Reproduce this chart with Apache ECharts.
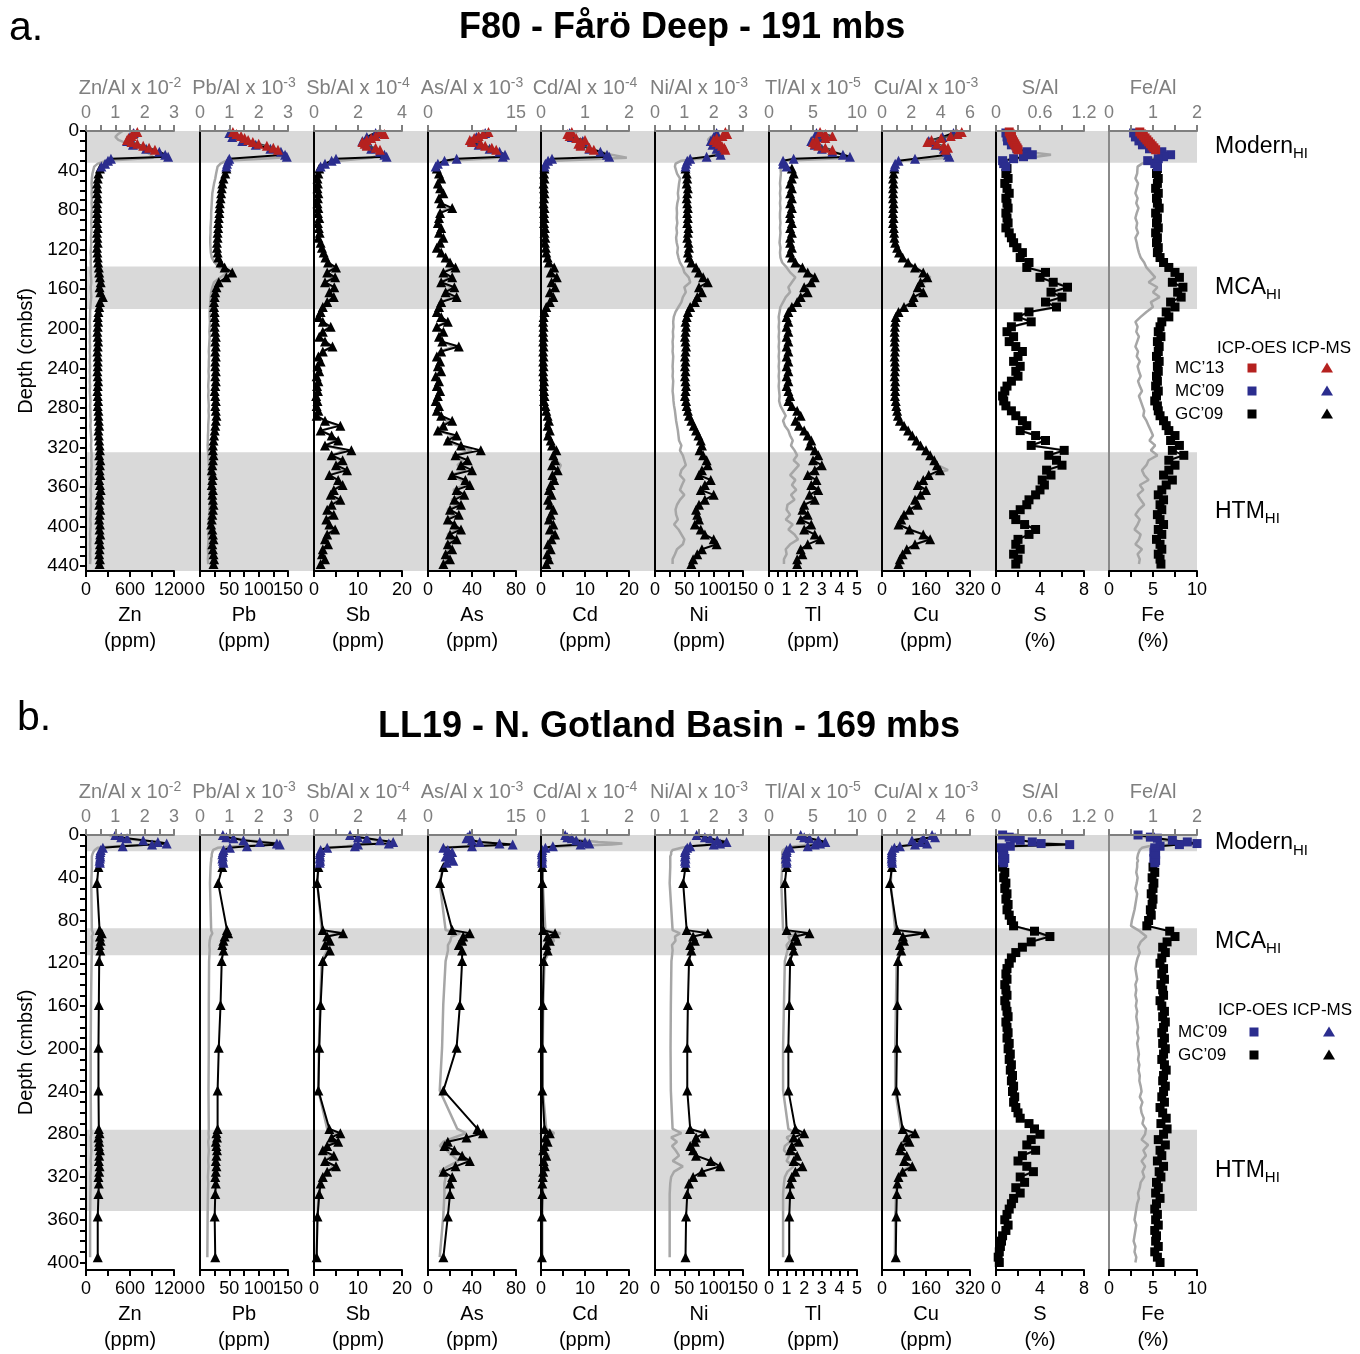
<!DOCTYPE html>
<html><head><meta charset="utf-8">
<script src="https://cdn.jsdelivr.net/npm/echarts@6/dist/echarts.min.js"></script>
<style>html,body{margin:0;padding:0;background:#fff}#c{width:1360px;height:1354px}</style>
</head><body><div id="c"></div><script>
// ---------------- axis / label definitions ----------------
const ELEMENTS = ['Zn','Pb','Sb','As','Cd','Ni','Tl','Cu','S','Fe'];
const UNITS = ['(ppm)','(ppm)','(ppm)','(ppm)','(ppm)','(ppm)','(ppm)','(ppm)','(%)','(%)'];
const ppmMax = [1200,150,20,80,20,150,5,320,8,10];
const ppmTick = [300,25,5,20,5,25,0.5,80,2,2.5];
const ppmLabels = [[0,600,1200],[0,50,100,150],[0,10,20],[0,40,80],[0,10,20],[0,50,100,150],[0,1,2,3,4,5],[0,160,320],[0,4,8],[0,5,10]];
const ratioBase = ['Zn/Al x 10','Pb/Al x 10','Sb/Al x 10','As/Al x 10','Cd/Al x 10','Ni/Al x 10','Tl/Al x 10','Cu/Al x 10','S/Al','Fe/Al'];
const ratioExp = ['-2','-3','-4','-3','-4','-3','-5','-3','',''];
const ratioMax = [3,3,4,15,2,3,10,6,1.2,2];
const ratioTick = [0.5,0.5,1,7.5,0.5,0.5,2.5,1,0.3,0.5];
const ratioLabels = [[0,1,2,3],[0,1,2,3],[0,2,4],[0,15],[0,1,2],[0,1,2,3],[0,5,10],[0,2,4,6],[0,0.6,1.2],[0,1,2]];

// ---------------- panel a : F80 ----------------
const aDepthTicks = [0,10,20,30,40,50,60,70,80,90,100,110,120,130,140,150,160,170,180,190,200,210,220,230,240,250,260,270,280,290,300,310,320,330,340,350,360,370,380,390,400,410,420,430,440];
const aDepthLabels = [0,40,80,120,160,200,240,280,320,360,400,440];
const aBandStart = [0,137,325];
const aBandEnd = [32,180,445];
const aBandNames = ['Modern','MCA','HTM'];
const aDepthMC13 = [1,3,5,7,9,11,13,15,17,19];
const aDepthMC09 = [2,6,10,14,18,21,24,26,28,30,33,36];
const aDepthRatioTop = [0,3,6,9,12,15,18,21,24,27,30,33,36];
const aDepthGC = [38,43,48,53,58,63,68,73,78,83,88,93,98,103,108,113,118,123,128,133,
138,143,148,153,158,163,168,173,178,183,188,193,198,203,208,213,218,223,228,233,
238,243,248,253,258,263,268,273,278,283,288,293,298,303,308,313,318,323,328,333,
338,343,348,353,358,363,368,373,378,383,388,393,398,403,408,413,418,423,428,433,438];

const aZnMC13 = [700,640,620,580,560,620,700,780,860,940];
const aZnMC09 = [650,600,560,640,820,1000,1080,1120,340,300,260,210];
const aZnGC = [190,170,160,150,155,150,160,150,155,150,
155,150,160,150,155,160,150,155,160,165,
175,180,190,200,185,195,230,190,180,170,
160,165,160,155,160,165,160,155,160,160,
160,155,160,165,160,155,160,165,160,170,
170,175,180,170,175,180,185,190,180,195,
190,185,195,180,190,200,185,190,180,195,
185,180,190,185,195,180,190,185,180,190,185];
const aZnRatio = [1.25,1.1,1.0,1.1,1.35,1.6,1.85,2.05,2.2,2.3,0.7,0.4,0.28,
0.24,0.22,0.2,0.19,0.2,0.19,0.2,0.19,0.2,0.19,
0.19,0.18,0.19,0.18,0.17,0.18,0.17,0.16,0.17,0.16,
0.17,0.16,0.17,0.18,0.16,0.17,0.18,0.16,0.15,0.14,
0.14,0.13,0.14,0.13,0.14,0.13,0.14,0.13,0.14,0.13,
0.14,0.13,0.14,0.13,0.14,0.13,0.14,0.15,0.14,0.15,
0.15,0.16,0.15,0.16,0.17,0.18,0.17,0.18,0.19,0.18,
0.19,0.18,0.17,0.18,0.17,0.16,0.17,0.16,0.17,0.16,
0.16,0.15,0.16,0.15,0.14,0.15,0.14,0.15,0.14,0.15,0.14];

const aPbMC13 = [56,62,70,76,82,90,100,114,125,133];
const aPbMC09 = [50,55,72,95,120,138,145,148,50,48,46,45];
const aPbGC = [45,43,40,38,37,36,35,34,33,33,
32,31,31,30,30,29,29,30,31,35,
42,55,45,32,28,26,25,24,24,25,
25,26,25,26,27,26,27,26,27,26,
26,27,26,27,26,25,26,27,26,27,
28,27,26,25,24,23,22,22,23,22,
21,20,22,21,20,22,21,22,23,22,
21,20,19,21,22,23,21,22,23,24,23];
const aPbRatio = [1.0,1.1,1.2,1.35,1.6,1.9,2.3,2.6,2.8,2.7,0.9,0.7,0.6,
0.58,0.55,0.52,0.48,0.45,0.42,0.41,0.40,0.39,0.38,
0.38,0.37,0.36,0.36,0.35,0.35,0.36,0.37,0.40,0.50,
0.65,0.95,0.7,0.48,0.42,0.38,0.36,0.35,0.34,0.33,
0.33,0.34,0.33,0.32,0.33,0.32,0.31,0.30,0.31,0.30,
0.30,0.29,0.30,0.29,0.28,0.29,0.28,0.29,0.30,0.29,
0.30,0.29,0.28,0.28,0.27,0.27,0.26,0.27,0.28,0.29,
0.30,0.31,0.30,0.32,0.31,0.33,0.32,0.34,0.33,0.32,
0.31,0.30,0.29,0.30,0.28,0.29,0.28,0.27,0.28,0.27,0.28];

const aSbMC13 = [15,16,14,13,12,11,11.5,12,14,15];
const aSbMC09 = [14,12,11,12,13,15,16,16.5,5,4,2.5,1.5];
const aSbGC = [1.2,1.0,0.8,0.9,0.8,1.0,0.9,0.8,1.0,0.9,
1.2,0.9,1.1,1.3,1.0,1.5,1.8,2.2,2.6,3.2,
5.0,3.0,4.8,2.5,4.6,3.5,4.5,3.0,2.0,1.5,
1.0,2.0,3.8,2.0,1.2,2.5,4.2,2.0,1.0,1.5,
0.8,1.2,0.6,1.0,0.7,0.9,0.5,0.8,0.6,1.0,
0.6,2.5,6.0,1.5,4.0,5.5,2.5,8.5,4.0,6.5,
5.0,7.5,3.5,5.5,6.5,4.5,3.8,6.0,4.0,3.0,
4.5,2.8,3.5,4.8,3.0,2.5,3.2,2.0,1.8,2.5,1.5];
const aSbRatio = [2.9,2.7,2.4,2.2,2.1,2.3,2.6,2.9,3.0,2.6,1.2,0.5,0.3,
0.25,0.2,0.18,0.2,0.17,0.2,0.19,0.17,0.2,0.18,
0.25,0.18,0.22,0.28,0.2,0.3,0.38,0.45,0.5,0.65,
0.95,0.6,0.9,0.5,0.9,0.7,0.85,0.6,0.4,0.3,
0.2,0.4,0.7,0.4,0.25,0.55,0.8,0.4,0.2,0.3,
0.16,0.24,0.12,0.2,0.14,0.18,0.1,0.16,0.12,0.2,
0.12,0.5,1.1,0.3,0.8,1.0,0.5,1.4,0.8,1.2,
1.0,1.35,0.7,1.05,1.2,0.9,0.75,1.1,0.8,0.6,
0.85,0.55,0.7,0.9,0.6,0.5,0.65,0.4,0.35,0.5,0.3];

const aAsMC13 = [55,50,46,42,38,40,48,52,58,62];
const aAsMC09 = [52,44,40,46,56,65,70,68,26,15,9,7];
const aAsGC = [8,10,12,9,11,14,10,12,22,11,
10,9,12,10,14,11,8,12,16,20,
25,14,22,12,24,16,26,12,10,8,
12,18,8,14,10,13,28,12,8,11,
9,12,7,10,8,11,9,7,10,8,
12,22,14,9,26,18,30,48,25,36,
30,40,22,34,38,26,33,24,30,20,
28,18,24,30,20,26,18,22,16,20,14];
const aAsRatio = [10,9.5,9,8.5,8,8.5,10,11,12.5,12,4,2,1.5,
1.4,1.7,2.0,1.5,1.8,2.4,1.7,2.0,3.5,1.8,
1.7,1.5,2.0,1.7,2.4,1.9,1.4,2.0,2.7,3.3,
4.2,2.5,3.8,2.0,4.0,2.8,4.4,2.0,1.7,1.4,
2.0,3.0,1.4,2.4,1.8,2.2,4.5,2.0,1.4,1.9,
1.5,2.0,1.2,1.7,1.3,1.8,1.5,1.2,1.7,1.3,
2.0,3.5,2.4,1.5,4.3,3.0,5.0,7.5,4.2,6.0,
5.0,6.5,3.7,5.6,6.2,4.3,5.4,4.0,5.0,3.3,
4.6,3.0,4.0,5.0,3.3,4.3,3.0,3.7,2.7,3.3,2.4];

const aCdMC13 = [7,6,6.5,8,10,9,8.5,9,11,12];
const aCdMC09 = [6.5,7,9.5,9,11,13.5,15,15.5,2.5,1.6,1,0.8];
const aCdGC = [0.8,0.7,0.8,0.6,0.7,0.8,0.7,0.6,0.8,0.7,
0.8,0.7,0.9,0.8,1.0,0.9,1.1,1.2,1.5,1.8,
3.0,2.2,3.6,2.4,3.2,2.0,2.8,2.0,1.2,0.8,
0.6,0.5,0.6,0.5,0.6,0.5,0.6,0.5,0.6,0.5,
0.6,0.5,0.6,0.7,0.6,0.7,0.8,0.7,1.0,1.2,
1.5,1.8,1.5,2.0,1.6,2.2,2.5,3.5,2.8,3.2,
2.5,3.8,2.6,3.0,2.2,1.8,2.4,1.6,2.0,2.8,
2.2,1.8,2.8,2.0,3.2,2.4,1.6,2.2,1.4,1.8,1.2];
const aCdRatio = [0.85,0.7,0.65,0.8,0.95,1.05,1.15,1.35,1.6,1.95,0.35,0.15,0.1,
0.08,0.07,0.08,0.06,0.07,0.08,0.07,0.06,0.08,0.07,
0.08,0.07,0.09,0.08,0.1,0.09,0.11,0.12,0.15,0.18,
0.3,0.22,0.38,0.25,0.33,0.21,0.3,0.2,0.12,0.08,
0.06,0.05,0.06,0.05,0.06,0.05,0.06,0.05,0.06,0.05,
0.06,0.05,0.06,0.07,0.06,0.07,0.08,0.07,0.1,0.12,
0.15,0.18,0.16,0.21,0.17,0.23,0.28,0.38,0.3,0.35,
0.45,0.4,0.28,0.32,0.24,0.19,0.26,0.17,0.21,0.3,
0.24,0.19,0.3,0.21,0.35,0.26,0.17,0.23,0.15,0.19,0.13];

const aNiMC13 = [120,123,115,105,100,105,110,114,118,120];
const aNiMC09 = [105,100,95,98,105,110,112,88,60,55,53,52];
const aNiGC = [52,54,55,54,56,55,54,55,56,55,
56,55,57,56,55,57,58,56,58,62,
70,75,82,90,75,80,72,68,60,56,
54,52,53,52,51,52,53,52,51,52,
51,52,51,52,53,52,51,53,54,56,
58,62,66,70,74,78,80,76,82,88,
90,80,75,95,85,78,100,85,75,70,
72,75,68,78,85,100,105,80,72,65,62];
const aNiRatio = [2.2,2.1,1.9,1.8,1.9,2.0,2.1,2.2,2.0,1.8,0.9,0.7,0.68,
0.68,0.75,0.85,0.82,0.8,0.78,0.8,0.76,0.74,0.75,
0.74,0.76,0.73,0.75,0.72,0.74,0.78,0.76,0.8,0.85,
0.95,1.0,1.15,1.2,1.0,1.05,0.95,0.9,0.8,0.7,
0.64,0.62,0.63,0.61,0.62,0.6,0.61,0.6,0.62,0.61,
0.6,0.61,0.6,0.62,0.61,0.6,0.62,0.63,0.65,0.68,
0.7,0.72,0.75,0.78,0.8,0.82,0.9,0.85,0.95,1.0,
1.05,0.9,0.85,1.0,0.92,0.85,1.0,0.85,0.75,0.7,
0.72,0.78,0.65,0.8,0.9,1.0,0.95,0.75,0.68,0.6,0.6];

const aTlMC13 = [2.9,3.2,3.6,3.2,2.7,2.5,2.6,2.8,3.2,3.6];
const aTlMC09 = [2.7,2.9,2.4,2.6,3.0,3.6,4.2,4.6,1.4,0.8,0.8,1.0];
const aTlGC = [1.3,1.4,1.3,1.2,1.3,1.2,1.3,1.2,1.3,1.2,
1.2,1.3,1.2,1.3,1.2,1.2,1.3,1.2,1.3,1.5,
1.9,2.2,2.6,2.4,2.0,2.2,1.8,1.6,1.3,1.1,
1.0,1.1,1.0,1.1,1.0,1.1,1.0,1.1,1.0,1.1,
1.0,1.1,1.0,1.1,1.0,1.1,1.2,1.1,1.3,1.6,
1.8,1.5,1.7,2.0,2.2,2.4,2.3,2.6,2.8,2.5,
3.0,2.6,2.2,2.7,2.4,2.8,2.3,2.6,2.0,1.9,
2.2,1.8,2.4,2.0,2.6,2.9,2.2,1.8,1.9,1.6,1.6];
const aTlRatio = [6.0,5.5,5.0,4.8,5.2,5.8,6.5,7.2,8.5,9.2,2.0,1.4,1.3,
1.3,1.35,1.3,1.25,1.3,1.25,1.3,1.25,1.3,1.25,
1.25,1.3,1.25,1.3,1.25,1.2,1.3,1.25,1.3,1.5,
2.0,2.4,3.0,2.6,2.2,2.4,1.9,1.6,1.3,1.2,
1.1,1.15,1.1,1.15,1.1,1.15,1.1,1.15,1.1,1.15,
1.1,1.15,1.1,1.15,1.1,1.15,1.2,1.15,1.3,1.6,
1.9,1.6,1.8,2.2,2.4,2.7,2.5,2.9,3.2,2.8,
3.4,2.9,2.4,3.0,2.6,3.1,2.5,2.9,2.1,2.0,
2.4,1.9,2.7,2.2,2.9,3.3,2.4,1.9,2.0,1.7,1.7];

const aCuMC13 = [290,275,250,215,180,165,200,225,240,230];
const aCuMC09 = [260,220,170,195,225,235,240,245,120,60,48,45];
const aCuGC = [45,42,40,42,40,41,40,42,41,40,
42,40,43,44,45,48,55,62,75,95,
120,150,165,140,130,150,115,110,80,60,
50,48,47,46,47,46,48,47,46,47,
48,47,46,48,47,48,47,50,52,55,
58,65,80,95,110,125,140,160,175,190,
200,211,170,150,130,160,140,120,130,100,
80,70,60,100,150,175,120,90,75,65,60];
const aCuRatio = [5.3,5.0,4.6,4.0,3.5,3.3,3.8,4.2,4.5,4.6,1.5,0.9,0.85,
0.85,0.8,0.78,0.8,0.76,0.78,0.76,0.8,0.78,0.76,
0.8,0.76,0.82,0.84,0.86,0.9,1.05,1.2,1.45,1.8,
2.3,2.8,3.3,2.9,2.5,2.8,2.2,2.0,1.5,1.1,
0.95,0.9,0.88,0.87,0.88,0.87,0.9,0.88,0.87,0.88,
0.9,0.88,0.87,0.9,0.88,0.9,0.88,0.95,0.98,1.05,
1.1,1.25,1.5,1.8,2.1,2.35,2.6,3.0,3.3,3.6,
3.8,4.5,3.2,2.8,2.4,3.0,2.6,2.2,2.4,1.9,
1.5,1.3,1.1,1.9,2.8,3.3,2.3,1.7,1.4,1.2,1.1];

const aSMC13 = [1.2,1.3,1.4,1.4,1.5,1.6,1.7,1.8,1.9,2.0];
const aSMC09 = [0.9,1.0,1.05,1.4,1.9,2.8,3.3,2.5,1.6,0.6,0.7,0.9];
const aSGC = [1.0,0.9,1.1,0.8,1.0,1.2,0.9,1.0,1.1,0.9,
1.0,1.1,0.9,1.2,1.4,1.6,1.9,2.4,2.2,3.0,
2.8,4.5,4.0,5.2,6.5,5.0,6.0,4.5,5.5,3.0,
2.0,3.2,1.4,1.0,1.6,1.2,1.8,2.4,2.0,1.6,
2.2,1.8,2.0,1.4,1.0,0.8,0.6,0.7,0.9,1.4,
1.8,2.4,2.8,2.2,3.6,4.5,3.2,6.2,4.8,5.5,
6.0,4.6,5.0,4.2,4.4,4.0,3.6,3.0,2.8,2.2,
1.6,1.8,2.6,3.6,3.0,2.0,1.8,2.2,1.6,2.0,1.8];
const aSRatio = [0.15,0.16,0.17,0.19,0.22,0.26,0.3,0.4,0.75,0.45,0.12,0.13,0.14,
0.15,0.14,0.16,0.12,0.15,0.18,0.14,0.15,0.16,0.14,
0.15,0.16,0.14,0.18,0.21,0.24,0.28,0.36,0.33,0.45,
0.42,0.7,0.6,0.8,1.0,0.75,0.92,0.68,0.85,0.45,
0.3,0.5,0.21,0.15,0.24,0.18,0.27,0.36,0.3,0.24,
0.33,0.27,0.3,0.21,0.15,0.12,0.09,0.11,0.14,0.21,
0.27,0.36,0.42,0.33,0.55,0.68,0.48,0.95,0.72,0.83,
0.9,0.7,0.76,0.63,0.66,0.6,0.54,0.45,0.42,0.33,
0.24,0.27,0.4,0.55,0.45,0.3,0.27,0.33,0.24,0.3,0.27];

const aFeMC13 = [3.5,3.7,3.9,4.1,4.3,4.5,4.7,4.9,5.1,5.3];
const aFeMC09 = [2.8,3.0,3.4,3.8,4.6,6.0,7.0,6.2,5.6,4.4,5.2,5.5];
const aFeGC = [5.5,5.4,5.6,5.5,5.3,5.6,5.4,5.5,5.7,5.3,
5.5,5.4,5.6,5.3,5.5,5.4,5.6,5.5,5.8,6.2,
6.8,7.5,8.0,7.2,8.4,7.8,8.2,7.0,7.5,6.5,
6.8,6.0,5.8,5.6,5.9,5.5,5.7,5.6,5.4,5.7,
5.5,5.6,5.4,5.5,5.3,5.6,5.4,5.2,5.5,5.6,
5.8,6.2,6.5,6.8,7.5,7.0,8.0,7.2,8.5,6.8,
7.5,6.8,6.2,7.2,6.5,6.0,5.6,6.2,5.8,6.0,
5.5,5.8,6.2,5.6,6.0,5.4,5.8,6.0,5.6,5.8,5.9];
const aFeRatio = [0.7,0.68,0.7,0.75,0.85,0.95,1.05,1.2,1.3,1.05,0.9,0.75,0.65,
0.62,0.64,0.6,0.66,0.63,0.6,0.65,0.62,0.67,0.63,
0.6,0.64,0.62,0.66,0.6,0.63,0.65,0.68,0.72,0.8,
0.85,0.95,1.05,0.9,1.1,1.0,1.15,0.95,1.0,0.85,
0.72,0.6,0.65,0.62,0.68,0.64,0.6,0.66,0.63,0.7,
0.65,0.68,0.72,0.66,0.7,0.75,0.68,0.72,0.76,0.8,
0.78,0.85,0.9,0.95,1.0,0.92,1.05,0.95,1.1,0.9,
0.85,0.75,0.8,0.9,0.7,0.78,0.65,0.72,0.8,0.68,
0.6,0.7,0.65,0.58,0.72,0.68,0.6,0.75,0.65,0.7,0.68];

// ---------------- panel b : LL19 ----------------
const bDepthTicks = [0,10,20,30,40,50,60,70,80,90,100,110,120,130,140,150,160,170,180,190,200,210,220,230,240,250,260,270,280,290,300,310,320,330,340,350,360,370,380,390,400];
const bDepthLabels = [0,40,80,120,160,200,240,280,320,360,400];
const bBandStart = [0,86,272];
const bBandEnd = [15,111,347];
const bBandNames = ['Modern','MCA','HTM'];
const bDepthMC09 = [0,2,3,5,6.5,8,9,10.5,12,14,16,18,20,22,24,26];
const bDepthMS = [30,45,89,92,95,99,103,108,118,159,199,239,275,279,283,287,291,295,300,305,310,315,320,326,336,357,395];
const bDepthOES = [30,35,40,45,50,55,60,65,70,75,80,85,90,95,100,105,110,115,120,125,
130,135,140,145,150,155,160,165,170,175,180,185,190,195,200,205,210,215,220,225,
230,235,240,245,250,255,260,265,270,275,280,285,290,295,300,305,310,315,320,325,
330,335,340,345,350,355,360,365,370,375,380,385,390,395,400];

const bZnMC09 = [400,480,560,780,980,1100,900,500,230,200,195,190,195,190,185,190];
const bZnGC = [170,150,185,215,190,200,185,195,180,175,170,170,175,185,170,180,175,190,180,175,185,180,170,175,170,160,160];
const bZnRatio = [0.8,1.0,1.2,1.8,2.4,2.8,2.2,1.0,0.4,0.3,0.25,0.22,0.2,0.2,0.2,0.2,
0.2,0.18,0.2,0.24,0.2,0.21,0.2,0.2,0.19,0.17,0.16,0.16,0.17,0.18,0.16,0.17,0.17,0.18,0.17,0.16,0.17,0.16,0.15,0.16,0.15,0.14,0.14];
const bPbMC09 = [39,45,57,74,102,131,136,80,51,40,39,38,39,38,39,40];
const bPbGC = [38,31,46,48,42,40,38,40,37,35,32,30,30,28,29,27,28,29,28,27,28,27,26,27,26,25,26];
const bPbRatio = [0.9,1.0,1.2,1.6,2.2,2.7,2.5,1.2,0.6,0.45,0.42,0.4,0.4,0.38,0.38,0.37,
0.36,0.34,0.38,0.42,0.36,0.33,0.32,0.33,0.31,0.3,0.3,0.29,0.3,0.29,0.3,0.28,0.29,0.3,0.29,0.28,0.29,0.28,0.27,0.28,0.27,0.26,0.25];
const bSbMC09 = [8.2,10,12,15,18,17,10,9.3,3,1.5,1.4,1.3,1.4,1.3,1.4,1.3];
const bSbGC = [1.0,0.7,2.0,6.6,3.0,3.6,2.5,3.6,2.0,1.5,1.2,1.0,3.5,6.0,4.0,5.5,3.0,2.0,4.5,2.5,5.0,3.0,2.0,1.5,1.2,0.8,0.6];
const bSbRatio = [1.8,2.0,2.3,2.8,3.3,3.0,2.0,1.5,0.6,0.3,0.28,0.26,0.25,0.25,0.24,0.24,
0.2,0.15,0.35,1.2,0.55,0.65,0.45,0.6,0.35,0.28,0.22,0.2,0.6,1.1,0.75,1.0,0.55,0.38,0.8,0.45,0.9,0.55,0.35,0.3,0.22,0.15,0.12];
const bAsMC09 = [38,36,35,40,47,65,77,40,14,18,22,20,16,19,23,17];
const bAsGC = [14,11,22,38,32,31,28,31,31,29,26,14,45,50,35,18,15,24,31,38,25,14,22,20,20,18,14];
const bAsRatio = [7.5,7,6.8,7.5,9,12,14,7,2.5,3.2,4,3.6,3,3.4,4,3,
2.5,2.0,3.0,5.5,4.0,3.8,3.4,3.4,3.0,2.6,2.4,2.0,5.0,6.5,4.5,2.6,2.0,3.2,4.2,5.2,3.4,2.0,3.0,2.8,2.8,2.6,2.0];
const bCdMC09 = [5.5,6,7,8,10,11,9,2.7,1,0.3,0.2,0.2,0.3,0.2,0.2,0.3];
const bCdGC = [0.3,0.3,0.5,3.2,1.5,2.0,1.2,1.5,0.6,0.4,0.3,0.3,0.8,2.0,1.0,1.5,0.8,0.5,1.2,0.6,0.9,0.5,0.4,0.3,0.3,0.2,0.2];
const bCdRatio = [0.6,0.65,0.75,0.9,1.3,1.85,1.6,0.5,0.15,0.05,0.04,0.04,0.04,0.04,0.04,0.04,
0.04,0.04,0.1,0.45,0.22,0.3,0.18,0.2,0.08,0.05,0.04,0.04,0.12,0.3,0.15,0.2,0.12,0.08,0.18,0.1,0.14,0.08,0.06,0.05,0.04,0.03,0.03];
const bNiMC09 = [71,85,94,106,122,111,100,60,55,52,51,52,51,52,51,52];
const bNiGC = [52,48,54,90,65,68,60,62,58,56,55,55,60,85,70,68,60,65,70,95,111,80,65,58,55,53,52];
const bNiRatio = [1.4,1.6,1.8,2.2,2.5,2.3,2.0,1.2,0.9,0.6,0.55,0.55,0.52,0.52,0.52,0.52,
0.52,0.5,0.6,0.85,0.68,0.7,0.58,0.6,0.56,0.54,0.53,0.54,0.6,0.9,0.55,0.75,0.58,0.7,0.82,0.6,0.95,0.65,0.55,0.52,0.5,0.5,0.5];
const bTlMC09 = [1.8,2.0,2.3,2.8,3.2,2.9,2.6,2.2,1.2,1.0,1.0,0.95,1.0,0.95,1.0,1.0];
const bTlGC = [1.0,0.9,1.0,2.3,1.5,1.6,1.3,1.4,1.2,1.15,1.1,1.1,1.5,2.0,1.4,1.7,1.3,1.2,1.6,1.4,1.9,1.5,1.3,1.2,1.2,1.15,1.15];
const bTlRatio = [3.5,4,4.5,5.5,6.5,6,5,3,2,1.6,1.5,1.5,1.5,1.5,1.5,1.5,
1.5,1.4,1.6,3.5,2.2,2.4,2.0,2.1,1.8,1.7,1.6,1.6,2.2,3.0,2.0,2.4,1.8,1.7,2.3,2.0,2.8,2.1,1.8,1.7,1.6,1.6,1.6];
const bCuMC09 = [182,193,150,109,140,164,120,65,45,36,36,35,36,35,36,37];
const bCuGC = [36,29,55,156,76,80,65,70,58,56,54,52,75,120,90,100,70,65,90,80,110,75,60,56,54,52,50];
const bCuRatio = [3.2,3.5,3.0,2.2,2.6,3.0,2.4,1.3,0.9,0.7,0.68,0.66,0.66,0.66,0.65,0.65,
0.65,0.6,0.9,2.8,1.4,1.5,1.2,1.3,1.0,0.95,0.9,0.9,1.3,2.1,1.6,1.8,1.2,1.1,1.6,1.4,1.9,1.3,1.05,0.98,0.95,0.9,0.88];
const bSMC09 = [0.6,1.2,1.7,2.2,3.3,4.1,6.7,1.3,0.5,0.6,0.7,0.6,0.7,0.8,0.6,0.7];
const bSGC = [0.6,0.8,0.7,0.9,0.8,1.0,0.9,1.1,1.0,1.2,
1.4,1.6,3.5,4.9,3.2,2.4,1.8,1.4,1.2,1.0,
0.9,1.0,0.8,0.9,1.0,0.8,0.9,1.0,1.1,0.9,
1.0,1.1,1.0,1.2,1.1,1.3,1.2,1.4,1.3,1.5,
1.4,1.6,1.5,1.7,1.6,1.8,2.0,2.2,3.0,3.5,
4.0,3.2,2.8,3.6,2.4,2.0,2.8,3.4,2.2,2.6,
1.8,2.2,1.6,1.4,1.2,1.0,0.8,1.1,0.9,0.6,
0.5,0.4,0.3,0.2,0.3];
const bSRatio = [0.1,0.18,0.25,0.33,0.5,0.62,1.05,0.2,0.08,0.09,0.1,0.09,0.1,0.12,0.09,0.1,
0.09,0.12,0.1,0.13,0.12,0.15,0.13,0.16,0.15,0.18,
0.21,0.24,0.5,0.7,0.48,0.36,0.27,0.21,0.18,0.15,
0.13,0.15,0.12,0.13,0.15,0.12,0.13,0.15,0.16,0.13,
0.15,0.16,0.15,0.18,0.16,0.19,0.18,0.21,0.19,0.22,
0.21,0.24,0.22,0.25,0.24,0.27,0.3,0.33,0.45,0.52,
0.6,0.48,0.42,0.54,0.36,0.3,0.42,0.51,0.33,0.39,
0.27,0.33,0.24,0.21,0.18,0.15,0.12,0.16,0.13,0.09,
0.07,0.06,0.05,0.03,0.05];
const bFeMC09 = [3.3,4.7,5.5,7.2,8.9,10,8,5.8,5.2,5.2,5.1,5.3,5.2,5.1,5.3,5.2];
const bFeGC = [5.0,5.2,4.9,5.1,5.0,4.8,5.0,4.9,4.7,4.8,
4.5,4.3,6.9,7.5,6.6,6.1,6.4,6.0,5.8,6.2,
6.0,6.3,5.9,6.1,6.2,5.8,6.0,6.3,6.1,6.4,
6.2,6.0,6.3,6.1,6.4,6.2,6.0,6.3,6.5,6.2,
6.1,6.4,6.2,6.0,6.3,5.8,6.1,6.5,5.9,6.6,
6.2,5.6,6.4,5.8,6.0,5.5,6.2,5.7,5.9,5.4,
5.6,5.3,5.8,5.4,5.2,5.5,5.3,5.6,5.2,5.4,
5.3,5.6,5.2,5.5,5.8];
const bFeRatio = [0.65,0.8,0.9,1.2,1.5,1.8,1.4,0.9,0.75,0.7,0.68,0.66,0.65,0.64,0.66,0.64,
0.64,0.62,0.65,0.63,0.6,0.64,0.62,0.6,0.58,0.55,
0.52,0.5,0.7,0.85,0.72,0.66,0.7,0.65,0.62,0.6,
0.62,0.64,0.6,0.62,0.6,0.63,0.61,0.64,0.62,0.64,
0.66,0.64,0.67,0.64,0.66,0.68,0.66,0.69,0.67,0.7,
0.69,0.72,0.74,0.7,0.76,0.72,0.74,0.79,0.76,0.84,
0.82,0.74,0.89,0.78,0.84,0.74,0.82,0.76,0.8,0.72,
0.7,0.66,0.68,0.64,0.62,0.6,0.58,0.62,0.6,0.58,
0.56,0.6,0.58,0.62,0.6];

// ---------------- styling / layout ----------------
const FONT = "'Liberation Sans', Arial, Helvetica, sans-serif";
const RED = '#b5211f', BLUE = '#2b2d8e', GRAY = '#a6a6a6', AXGRAY = '#7f7f7f', BAND = '#d9d9d9';
const gridLefts = [86,200,314,428,541,655,769,882,996,1109];
const gridWidth = 88;

const panels = [
  { top:131, height:440, yMax:445, yTicks:aDepthTicks, yLabels:aDepthLabels,
    bandStart:aBandStart, bandEnd:aBandEnd, bandNames:aBandNames,
    mc13:[aZnMC13,aPbMC13,aSbMC13,aAsMC13,aCdMC13,aNiMC13,aTlMC13,aCuMC13,aSMC13,aFeMC13], d13:aDepthMC13,
    mc09:[aZnMC09,aPbMC09,aSbMC09,aAsMC09,aCdMC09,aNiMC09,aTlMC09,aCuMC09,aSMC09,aFeMC09], d09:aDepthMC09,
    gc:[aZnGC,aPbGC,aSbGC,aAsGC,aCdGC,aNiGC,aTlGC,aCuGC,aSGC,aFeGC], dGC: e => aDepthGC,
    ratio:[aZnRatio,aPbRatio,aSbRatio,aAsRatio,aCdRatio,aNiRatio,aTlRatio,aCuRatio,aSRatio,aFeRatio],
    dRatio: e => aDepthRatioTop.concat(aDepthGC),
    legend:{header:[1217,348], rows:["MC\u201913","MC\u201909","GC\u201909"], colors:[RED,BLUE,'#000'], rowY:[368,391,414], labelX:1175, sqX:1252, triX:1327}
  },
  { top:835, height:441, yMax:407, yTicks:bDepthTicks, yLabels:bDepthLabels,
    bandStart:bBandStart, bandEnd:bBandEnd, bandNames:bBandNames,
    mc13:null, d13:null,
    mc09:[bZnMC09,bPbMC09,bSbMC09,bAsMC09,bCdMC09,bNiMC09,bTlMC09,bCuMC09,bSMC09,bFeMC09], d09:bDepthMC09,
    gc:[bZnGC,bPbGC,bSbGC,bAsGC,bCdGC,bNiGC,bTlGC,bCuGC,bSGC,bFeGC], dGC: e => (e >= 8 ? bDepthOES : bDepthMS),
    ratio:[bZnRatio,bPbRatio,bSbRatio,bAsRatio,bCdRatio,bNiRatio,bTlRatio,bCuRatio,bSRatio,bFeRatio],
    dRatio: e => bDepthMC09.concat(e >= 8 ? bDepthOES : bDepthMS),
    legend:{header:[1218,1010], rows:["MC\u201909","GC\u201909"], colors:[BLUE,'#000'], rowY:[1032,1055], labelX:1178, sqX:1254, triX:1329}
  }
];

function zip(vals, depths){ return vals.map((v,i)=>[v, depths[i]]); }
function fmtLabels(list){
  return v => { const hit = list.find(l => Math.abs(l - v) < 1e-6); return hit === undefined ? '' : String(hit); };
}

const option = {
  animation:false, backgroundColor:'#fff', textStyle:{fontFamily:FONT},
  title:[
    {text:'a.', left:9, top:8, padding:0, textStyle:{fontSize:41, fontWeight:'normal', fontFamily:FONT, color:'#000'}},
    {text:'F80 - F\u00e5r\u00f6 Deep - 191 mbs', left:459, top:10, padding:0, textStyle:{fontSize:36, fontWeight:'bold', fontFamily:FONT, color:'#000'}},
    {text:'b.', left:17, top:698, padding:0, textStyle:{fontSize:41, fontWeight:'normal', fontFamily:FONT, color:'#000'}},
    {text:'LL19 - N. Gotland Basin - 169 mbs', left:378, top:709, padding:0, textStyle:{fontSize:36, fontWeight:'bold', fontFamily:FONT, color:'#000'}}
  ],
  grid:[], xAxis:[], yAxis:[], series:[], graphic:[]
};

panels.forEach((P,p) => {
  ELEMENTS.forEach((el,e) => {
    const gi = p*10 + e;
    const first = e === 0;
    option.grid.push({left:gridLefts[e], top:P.top, width:gridWidth, height:P.height});
    option.xAxis.push({
      gridIndex:gi, type:'value', position:'bottom', min:0, max:ppmMax[e], interval:ppmTick[e], z:10,
      axisLine:{show:true, onZero:false, lineStyle:{color:'#000', width:2}},
      axisTick:{show:true, length:6, lineStyle:{color:'#000', width:2}},
      axisLabel:{fontSize:18, color:'#000', margin:10, fontFamily:FONT, formatter:fmtLabels(ppmLabels[e])},
      splitLine:{show:false},
      name: el + '\n' + UNITS[e], nameLocation:'middle', nameGap:31,
      nameTextStyle:{fontSize:20, lineHeight:26, color:'#000', fontFamily:FONT}
    });
    option.xAxis.push({
      gridIndex:gi, type:'value', position:'top', min:0, max:ratioMax[e], interval:ratioTick[e], z:10,
      axisLine:{show:true, onZero:false, lineStyle:{color:AXGRAY, width:2}},
      axisTick:{show:true, length:6, lineStyle:{color:AXGRAY, width:2}},
      axisLabel:{fontSize:18, color:AXGRAY, margin:9, fontFamily:FONT, formatter:fmtLabels(ratioLabels[e])},
      splitLine:{show:false},
      name: ratioExp[e] ? '{n|' + ratioBase[e] + '}{s|' + ratioExp[e] + '}' : '{n|' + ratioBase[e] + '}',
      nameLocation:'middle', nameGap:31,
      nameTextStyle:{color:AXGRAY, rich:{
        n:{fontSize:20, lineHeight:24, color:AXGRAY, fontFamily:FONT},
        s:{fontSize:14, lineHeight:14, verticalAlign:'top', color:AXGRAY, fontFamily:FONT}}}
    });
    option.yAxis.push({
      gridIndex:gi, type:'value', inverse:true, min:0, max:P.yMax, interval:40, z:10,
      axisLine:{show:true, onZero:false, lineStyle:{color: e === 9 ? '#8a8a8a' : '#000', width:2}},
      axisTick:{show:first, length:6, customValues:P.yTicks, lineStyle:{color:'#000', width:2}},
      minorTick:{show:false},
      axisLabel:{show:first, fontSize:19, color:'#000', margin:7, fontFamily:FONT, customValues:P.yLabels,
        formatter: v => (Math.round(v) % 40 === 0 ? String(Math.round(v)) : '')},
      splitLine:{show:false},
      name: first ? 'Depth (cmbsf)' : '', nameLocation:'middle', nameGap:50, nameRotate:90,
      nameTextStyle:{fontSize:20, color:'#000', fontFamily:FONT}
    });
  });
});
// full-width band grids
panels.forEach((P,p) => {
  option.grid.push({left:86, top:P.top, width:1111, height:P.height});
  option.xAxis.push({gridIndex:20+p, type:'value', min:0, max:1, show:false});
  option.yAxis.push({gridIndex:20+p, type:'value', inverse:true, min:0, max:P.yMax, show:false});
});

panels.forEach((P,p) => {
  option.series.push({
    type:'line', xAxisIndex:40+p, yAxisIndex:20+p, data:[], z:1, silent:true,
    markArea:{silent:true, itemStyle:{color:BAND},
      label:{show:true, position:'right', distance:18, color:'#000', fontFamily:FONT,
        formatter: prm => '{m|' + prm.name + '}{s|HI}',
        rich:{m:{fontSize:23, lineHeight:30, color:'#000', fontFamily:FONT},
              s:{fontSize:15, lineHeight:16, verticalAlign:'bottom', color:'#000', fontFamily:FONT}}},
      data: P.bandStart.map((s,i) => [{yAxis:s, name:P.bandNames[i]}, {yAxis:P.bandEnd[i]}])}
  });
  ELEMENTS.forEach((el,e) => {
    const gi = p*10 + e;
    const sym = e >= 8 ? 'rect' : 'triangle';
    const size = e >= 8 ? 9 : 10;
    option.series.push({type:'line', xAxisIndex:2*gi+1, yAxisIndex:gi, data:zip(P.ratio[e], P.dRatio(e)),
      showSymbol:false, lineStyle:{color:GRAY, width:2.5}, z:2, silent:true});
    option.series.push({type:'line', xAxisIndex:2*gi, yAxisIndex:gi,
      data:zip(P.mc09[e].concat(P.gc[e]), P.d09.concat(P.dGC(e))),
      showSymbol:false, lineStyle:{color:'#000', width:2}, z:3, silent:true});
    option.series.push({type:'scatter', xAxisIndex:2*gi, yAxisIndex:gi, data:zip(P.gc[e], P.dGC(e)),
      symbol:sym, symbolSize:size, itemStyle:{color:'#000', opacity:1}, z:4, silent:true});
    option.series.push({type:'scatter', xAxisIndex:2*gi, yAxisIndex:gi, data:zip(P.mc09[e], P.d09),
      symbol:sym, symbolSize:size, itemStyle:{color:BLUE, opacity:1}, z:5, silent:true});
    if (P.mc13) {
      option.series.push({type:'line', xAxisIndex:2*gi, yAxisIndex:gi, data:zip(P.mc13[e], P.d13),
        symbol:sym, symbolSize:size, showSymbol:true, showAllSymbol:true,
        itemStyle:{color:RED, borderWidth:0}, lineStyle:{color:'#444', width:1.5}, z:6, silent:true});
    }
  });
  // legend table
  const L = P.legend;
  option.graphic.push({type:'text', x:L.header[0], y:L.header[1],
    style:{text:'ICP-OES ICP-MS', fontSize:17, fontFamily:FONT, fill:'#000', verticalAlign:'middle'}});
  L.rows.forEach((r,i) => {
    const y = L.rowY[i];
    option.graphic.push({type:'text', x:L.labelX, y:y, style:{text:r, fontSize:17, fontFamily:FONT, fill:'#000', verticalAlign:'middle'}});
    option.graphic.push({type:'rect', shape:{x:L.sqX-4.5, y:y-4.5, width:9, height:9}, style:{fill:L.colors[i]}});
    option.graphic.push({type:'polygon', shape:{points:[[L.triX, y-5.5],[L.triX-6, y+4.5],[L.triX+6, y+4.5]]}, style:{fill:L.colors[i]}});
  });
});

const chart = echarts.init(document.getElementById('c'), null, {renderer:'canvas'});
chart.setOption(option);
</script></body></html>
